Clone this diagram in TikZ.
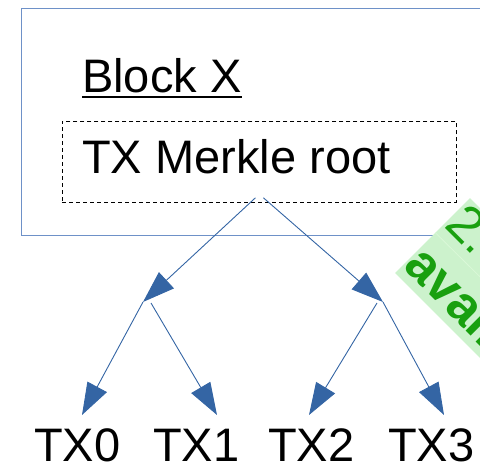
\documentclass[tikz,border=0pt]{standalone}
\usepackage{fontspec}
\setmainfont{Liberation Sans}
\usetikzlibrary{arrows.meta,calc}
\definecolor{boxblue}{RGB}{110,145,200}
\definecolor{arrblue}{RGB}{52,101,164}
\definecolor{banfill}{RGB}{204,242,204}
\definecolor{banseam}{RGB}{218,248,216}
\definecolor{bantext}{RGB}{25,160,15}
\tikzset{
  big/.style={font=\fontsize{47}{56}\selectfont, inner sep=0pt},
  bantxt/.style={font=\fontsize{52}{62}\selectfont, inner sep=0pt, text=bantext, anchor=base west, rotate=-45},
  tree/.style={draw=arrblue, line width=0.9pt, -{Triangle[length=32pt,width=22pt]}, arrblue},
}
\begin{document}
\begin{tikzpicture}[x=1pt,y=1pt]
\useasboundingbox (0,0) rectangle (480,-463);
\clip (0,0) rectangle (480,-463);
% outer block
\node[draw=boxblue, line width=0.9pt, minimum width=520pt, minimum height=227pt, anchor=north west, inner sep=0pt] (blk) at (21,-8) {};
\node[big, anchor=base west] (bx) at (82,-92) {Block X};
\draw[line width=2pt] ($(bx.base west)+(0,-5)$) -- ($(bx.base east)+(0,-5)$);
% merkle root box
\node[draw, dash pattern=on 4pt off 3pt, line width=0.8pt, minimum width=394pt, minimum height=81pt, anchor=north west, inner sep=0pt] (root) at (62,-121) {};
\node[big, anchor=base west] (rt) at (82,-173) {TX Merkle root};
% tree
\coordinate (n1) at (143,-302);
\coordinate (n2) at (383,-302);
\node[big, anchor=base west] (tx0) at (34,-461) {TX0};
\node[big, anchor=base west] (tx1) at (153,-461) {TX1};
\node[big, anchor=base west] (tx2) at (268,-461) {TX2};
\node[big, anchor=base west] (tx3) at (388,-461) {TX3};
\coordinate (t0) at (82,-415);
\coordinate (t1) at (217,-415);
\coordinate (t2) at (309,-415);
\coordinate (t3) at (444,-415);
\draw[tree] ($(root.south)+(-4,5)$) -- (n1);
\draw[tree] ($(root.south)+(4,5)$) -- (n2);
\draw[tree] (n1) -- (t0);
\draw[tree] ($(n1)+(8,-1)$) -- (t1);
\draw[tree] ($(n2)+(-6,-1)$) -- (t2);
\draw[tree] (n2) -- (t3);
% banner
\begin{scope}[shift={(395,-273)}, rotate=-45]
\fill[banfill] (0,0) rectangle (300,106);
\draw[banseam, line width=0.8pt] (0,57) -- (300,59);
\node[bantxt] (b1) at (1,67) {2.};
\node[bantxt, font=\fontsize{52}{62}\selectfont\bfseries] (b2) at (1,9) {avail};
\end{scope}
\end{tikzpicture}
\end{document}
